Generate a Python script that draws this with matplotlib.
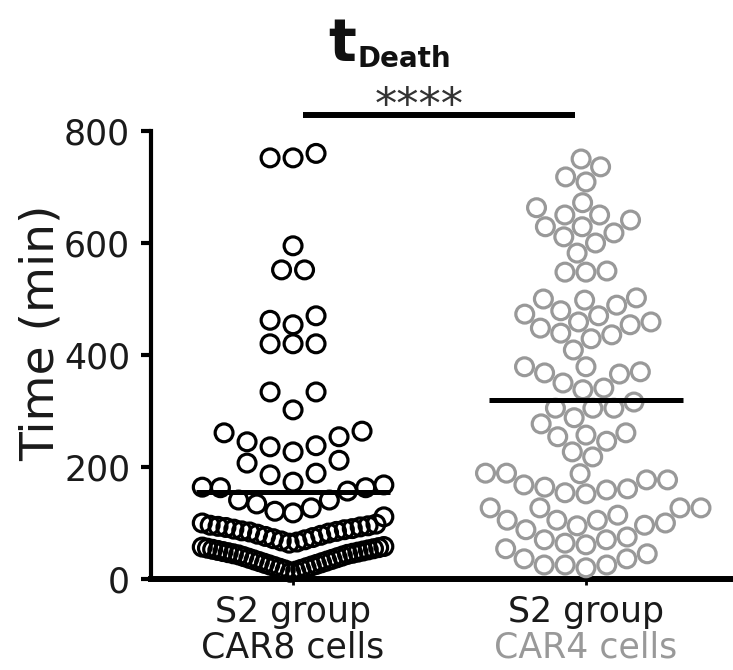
import numpy as np
import matplotlib
matplotlib.use("Agg")
import matplotlib.pyplot as plt

# time of death (min) per cell
car8_times = [
    760, 752, 752, 595, 552, 552, 470, 462, 454, 420, 420, 420, 334, 334, 302,
    264, 261, 254, 245, 238, 236, 227, 212, 207, 189, 186, 173,
    168, 164, 163, 163, 157, 141, 141, 134, 127, 121, 118,
    111, 100, 98, 96, 95, 94, 93, 92, 90, 89, 88, 86, 85, 84, 82, 80, 78, 76,
    74, 72, 70, 68, 66, 64,
    58, 57, 56, 55, 54, 53, 52, 51, 50, 49, 48, 47, 46, 45, 44, 43, 41, 40,
    38, 37, 35, 34, 32, 31, 29, 28, 26, 25, 23, 22, 20, 19, 17, 16, 14, 12,
]
car4_times = [
    750, 736, 718, 709, 672, 663, 650, 650, 641, 629, 629, 618, 611, 600, 582,
    550, 548, 548, 502, 500, 498, 489, 479, 473, 470, 459, 459,
    454, 448, 439, 436, 429, 409, 379, 379, 370, 368, 366, 350, 341, 338,
    316, 305, 305, 305, 288, 277, 261, 257, 254, 246, 227, 218,
    189, 189, 188, 177, 177, 168, 164, 161, 159, 154, 152, 127, 127, 127, 127,
    114, 105, 105, 105, 100, 96, 95, 88, 75,
    70, 70, 64, 61, 54, 45, 36, 36, 25, 25, 25, 20,
]
group_line1 = ["S2 group", "S2 group"]
group_line2 = ["CAR8 cells", "CAR4 cells"]
y_ticks = [0, 200, 400, 600, 800]
significance = "****"

COLORS = ["#000000", "#999999"]
PX_PER_X = 293.0   # pixels per x unit
PX_PER_Y = 0.56    # pixels per minute


def binned_offsets(values, binw=55, start=5, step=0.0785, max_half=0.31):
    """Rows of similar value spread sideways, lowest in the middle."""
    values = np.asarray(values, float)
    offsets = np.zeros(len(values))
    rows = np.floor((values - start) / binw).astype(int)
    for r in np.unique(rows):
        idx = np.where(rows == r)[0]
        idx = idx[np.argsort(values[idx], kind="stable")]
        n = len(idx)
        slots = sorted(np.arange(n) - (n - 1) / 2, key=lambda s: (abs(s), s))
        sp = step if n == 1 else min(step, 2 * max_half / (n - 1))
        offsets[idx] = np.array(slots) * sp
    return offsets


def swarm_offsets(values, d=21.0):
    """Plain beeswarm in pixel space: no two circles closer than d."""
    values = np.asarray(values, float)
    ys = values * PX_PER_Y
    offsets = np.zeros(len(values))
    placed = []
    for i in np.argsort(values, kind="stable"):
        y = ys[i]
        near = [(px, py) for px, py in placed if abs(py - y) < d]
        cands = [0.0]
        for px, py in near:
            h = np.sqrt(d * d - (py - y) ** 2)
            cands += [px + h, px - h]
        for c in sorted(cands, key=lambda c: (abs(c), c)):
            if all((c - px) ** 2 + (y - py) ** 2 >= d * d - 1e-6 for px, py in near):
                break
        placed.append((c, y))
        offsets[i] = c / PX_PER_X
    return offsets


fig = plt.figure(figsize=(7.33, 6.70), dpi=100)
ax = fig.add_axes([151 / 733, 91 / 670, 582 / 733, 448 / 670])

layouts = [binned_offsets(car8_times), swarm_offsets(car4_times)]
for i, (vals, color) in enumerate(zip([car8_times, car4_times], COLORS)):
    x0 = i + 1
    ax.scatter(x0 + layouts[i], vals, s=165, facecolors="none", edgecolors=color,
               linewidths=2.3, clip_on=False, zorder=3)
    m = np.mean(vals)
    ax.plot([x0 - 0.33, x0 + 0.33], [m, m], color="black", lw=3.6,
            solid_capstyle="butt", zorder=4)

ax.set_xlim(0.515, 2.502)
ax.set_ylim(0, 800)
ax.set_yticks(y_ticks)
ax.set_xticks([1, 2])
ax.set_xticklabels(["", ""])
ax.spines[["top", "right"]].set_visible(False)
ax.spines["left"].set_linewidth(3.0)
ax.spines["bottom"].set_linewidth(4.3)
ax.spines["bottom"].set_capstyle("projecting")
ax.tick_params(axis="y", direction="out", length=7, width=3.0, pad=8,
               labelsize=25, labelcolor="#1a1a1a")
ax.tick_params(axis="x", direction="out", length=4, width=2.0)
ax.set_ylabel("Time (min)", fontsize=34, color="#1a1a1a")
ax.yaxis.set_label_coords(-0.15, 0.55)

xa = ax.get_xaxis_transform()
for i in range(2):
    ax.text(i + 1, -0.074, group_line1[i], transform=xa, ha="center", va="center",
            fontsize=25, color="#1a1a1a")
    ax.text(i + 1, -0.154, group_line2[i], transform=xa, ha="center", va="center",
            fontsize=25, color=["#1a1a1a", "#999999"][i])

# significance bar
ax.plot([1.034, 1.962], [829, 829], color="black", lw=4.3, clip_on=False,
        solid_capstyle="butt")
ax.text(1.43, 822, significance, ha="center", va="baseline", fontsize=32,
        color="#333333", clip_on=False)

# title t_Death
fig.text(356 / 733, 1 - 61 / 670, "t", ha="right", va="baseline", fontsize=42,
         fontweight="bold", color="#111111")
fig.text(357 / 733, 1 - 67 / 670, "Death", ha="left", va="baseline", fontsize=20,
         fontweight="bold", color="#111111")

fig.savefig("out.png", dpi=100, facecolor="white")
